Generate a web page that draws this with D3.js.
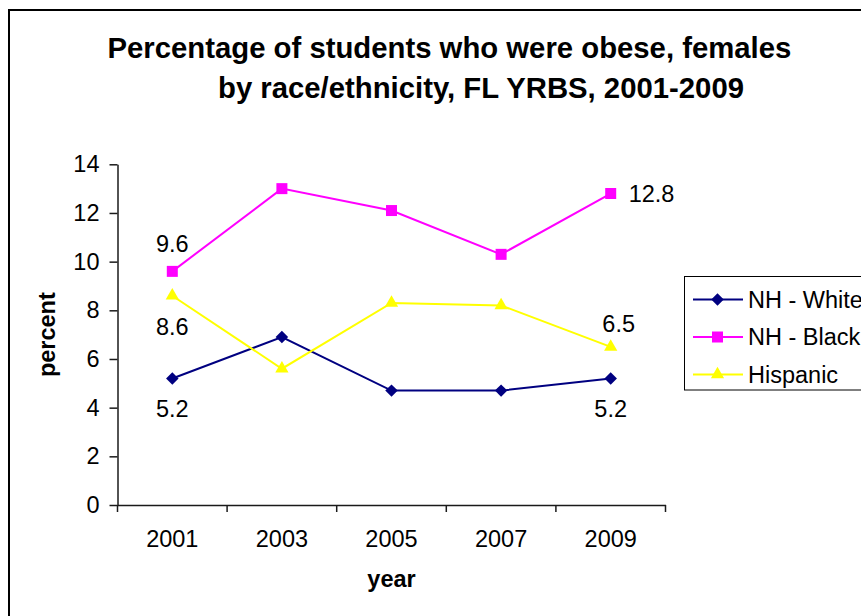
<!DOCTYPE html>
<html>
<head>
<meta charset="utf-8">
<script src="https://cdn.jsdelivr.net/npm/d3@7"></script>
<style>
  body { margin: 0; background: #fff; }
  svg text { font-family: "Liberation Sans", Arial, sans-serif; fill: #000; }
  .axis path, .axis line { stroke: #1a1a1a; stroke-width: 1.5; }
</style>
</head>
<body>
<div id="chart"></div>
<script>
// data
const years = ["2001", "2003", "2005", "2007", "2009"];
const nhWhite = [5.2, 6.9, 4.7, 4.7, 5.2];
const nhBlack = [9.6, 13.0, 12.1, 10.3, 12.8];
const hispanic = [8.6, 5.6, 8.3, 8.2, 6.5];
const yTicks = [0, 2, 4, 6, 8, 10, 12, 14];
const seriesNames = ["NH - White", "NH - Black", "Hispanic"];
const titleLines = [
  "Percentage of students who were obese, females",
  "by race/ethnicity, FL YRBS, 2001-2009",
];
// data labels shown on the chart: series index, year index, placement
const dataLabels = [
  { s: 1, i: 0, pos: "above" },
  { s: 2, i: 0, pos: "below" },
  { s: 0, i: 0, pos: "below" },
  { s: 1, i: 4, pos: "right" },
  { s: 2, i: 4, pos: "aboveRight" },
  { s: 0, i: 4, pos: "below" },
];

const allSeries = [nhWhite, nhBlack, hispanic];
const colors = ["#000080", "#ff00ff", "#ffff00"];
const symbols = [
  { type: d3.symbolSquare, size: 78, rotate: 45 },
  { type: d3.symbolSquare, size: 121, rotate: 0 },
  { type: d3.symbolTriangle, size: 76, rotate: 0 },
];

const W = 861, H = 616;
const svg = d3.select("#chart").append("svg")
  .attr("width", W).attr("height", H);

// outer frame (runs off the right/bottom edge like the original)
svg.append("rect")
  .attr("x", 9).attr("y", 10)
  .attr("width", 900).attr("height", 700)
  .attr("fill", "#fff").attr("stroke", "#000").attr("stroke-width", 2);

// title
const titleX = [107.5, 218];
const titleY = [58, 98];
svg.selectAll(".title").data(titleLines).enter().append("text")
  .attr("class", "title")
  .attr("x", (d, i) => titleX[i])
  .attr("y", (d, i) => titleY[i])
  .attr("font-size", "29.3px")
  .attr("font-weight", "bold")
  .text(d => d);

const x = d3.scaleBand().domain(years).range([117.5, 665.5]).padding(0);
const y = d3.scaleLinear().domain([0, 14]).range([505, 164.3]);
const cx = d => x(d) + x.bandwidth() / 2;

// y axis
const yAxis = svg.append("g").attr("class", "axis")
  .attr("transform", `translate(${x.range()[0]},0)`)
  .call(d3.axisLeft(y).tickValues(yTicks).tickSize(8).tickPadding(10).tickSizeOuter(0));
yAxis.selectAll("text").attr("font-size", "23.5px").attr("font-family", null);

// x axis - labels centred, ticks on band boundaries
const xAxis = svg.append("g").attr("class", "axis")
  .attr("transform", `translate(0,${y(0)})`)
  .call(d3.axisBottom(x).tickSize(0).tickPadding(25).tickSizeOuter(0));
xAxis.selectAll("text").attr("font-size", "23.5px").attr("font-family", null);
xAxis.selectAll(".bound").data(years.map(d => x(d)).concat([x.range()[1]]))
  .enter().append("line")
  .attr("class", "bound")
  .attr("x1", d => d).attr("x2", d => d)
  .attr("y1", 0).attr("y2", 7)
  .attr("stroke", "#1a1a1a").attr("stroke-width", 1.5);

// axis titles
svg.append("text")
  .attr("transform", `translate(55,${(y(0) + y(14)) / 2}) rotate(-90)`)
  .attr("text-anchor", "middle")
  .attr("font-size", "23.5px").attr("font-weight", "bold")
  .text("percent");
svg.append("text")
  .attr("x", (x.range()[0] + x.range()[1]) / 2).attr("y", 587)
  .attr("text-anchor", "middle")
  .attr("font-size", "23.5px").attr("font-weight", "bold")
  .text("year");

// lines + markers
const line = d3.line().x((d, i) => cx(years[i])).y(d => y(d));
allSeries.forEach((vals, s) => {
  const g = svg.append("g");
  g.append("path")
    .attr("d", line(vals))
    .attr("fill", "none")
    .attr("stroke", colors[s])
    .attr("stroke-width", 2);
  g.selectAll("path.mark").data(vals).enter().append("path")
    .attr("class", "mark")
    .attr("d", d3.symbol(symbols[s].type, symbols[s].size))
    .attr("transform", (d, i) => `translate(${cx(years[i])},${y(d)}) rotate(${symbols[s].rotate})`)
    .attr("fill", colors[s]);
});

// data labels
const offsets = {
  above: { dx: 0, dy: -19, anchor: "middle" },
  aboveRight: { dx: 8, dy: -15, anchor: "middle" },
  below: { dx: 0, dy: 39, anchor: "middle" },
  right: { dx: 18, dy: 8, anchor: "start" },
};
svg.selectAll(".dlabel").data(dataLabels).enter().append("text")
  .attr("class", "dlabel")
  .attr("x", d => cx(years[d.i]) + offsets[d.pos].dx)
  .attr("y", d => y(allSeries[d.s][d.i]) + offsets[d.pos].dy)
  .attr("text-anchor", d => offsets[d.pos].anchor)
  .attr("font-size", "23.5px")
  .text(d => allSeries[d.s][d.i].toFixed(1));

// legend
const legend = svg.append("g").attr("transform", "translate(684.5,276.5)");
legend.append("rect")
  .attr("width", 300).attr("height", 113.5)
  .attr("fill", "#fff").attr("stroke", "#000").attr("stroke-width", 1);
const item = legend.selectAll(".item").data(seriesNames).enter().append("g")
  .attr("class", "item")
  .attr("transform", (d, i) => `translate(0,${23 + i * 37.5})`);
item.append("line")
  .attr("x1", 8.5).attr("x2", 58.5)
  .attr("stroke", (d, i) => colors[i]).attr("stroke-width", 2);
item.append("path")
  .attr("d", (d, i) => d3.symbol(symbols[i].type, symbols[i].size)())
  .attr("transform", (d, i) => `translate(33,0) rotate(${symbols[i].rotate})`)
  .attr("fill", (d, i) => colors[i]);
item.append("text")
  .attr("x", 63.5).attr("dy", "0.35em")
  .attr("font-size", "23.5px")
  .text(d => d);
</script>
</body>
</html>
